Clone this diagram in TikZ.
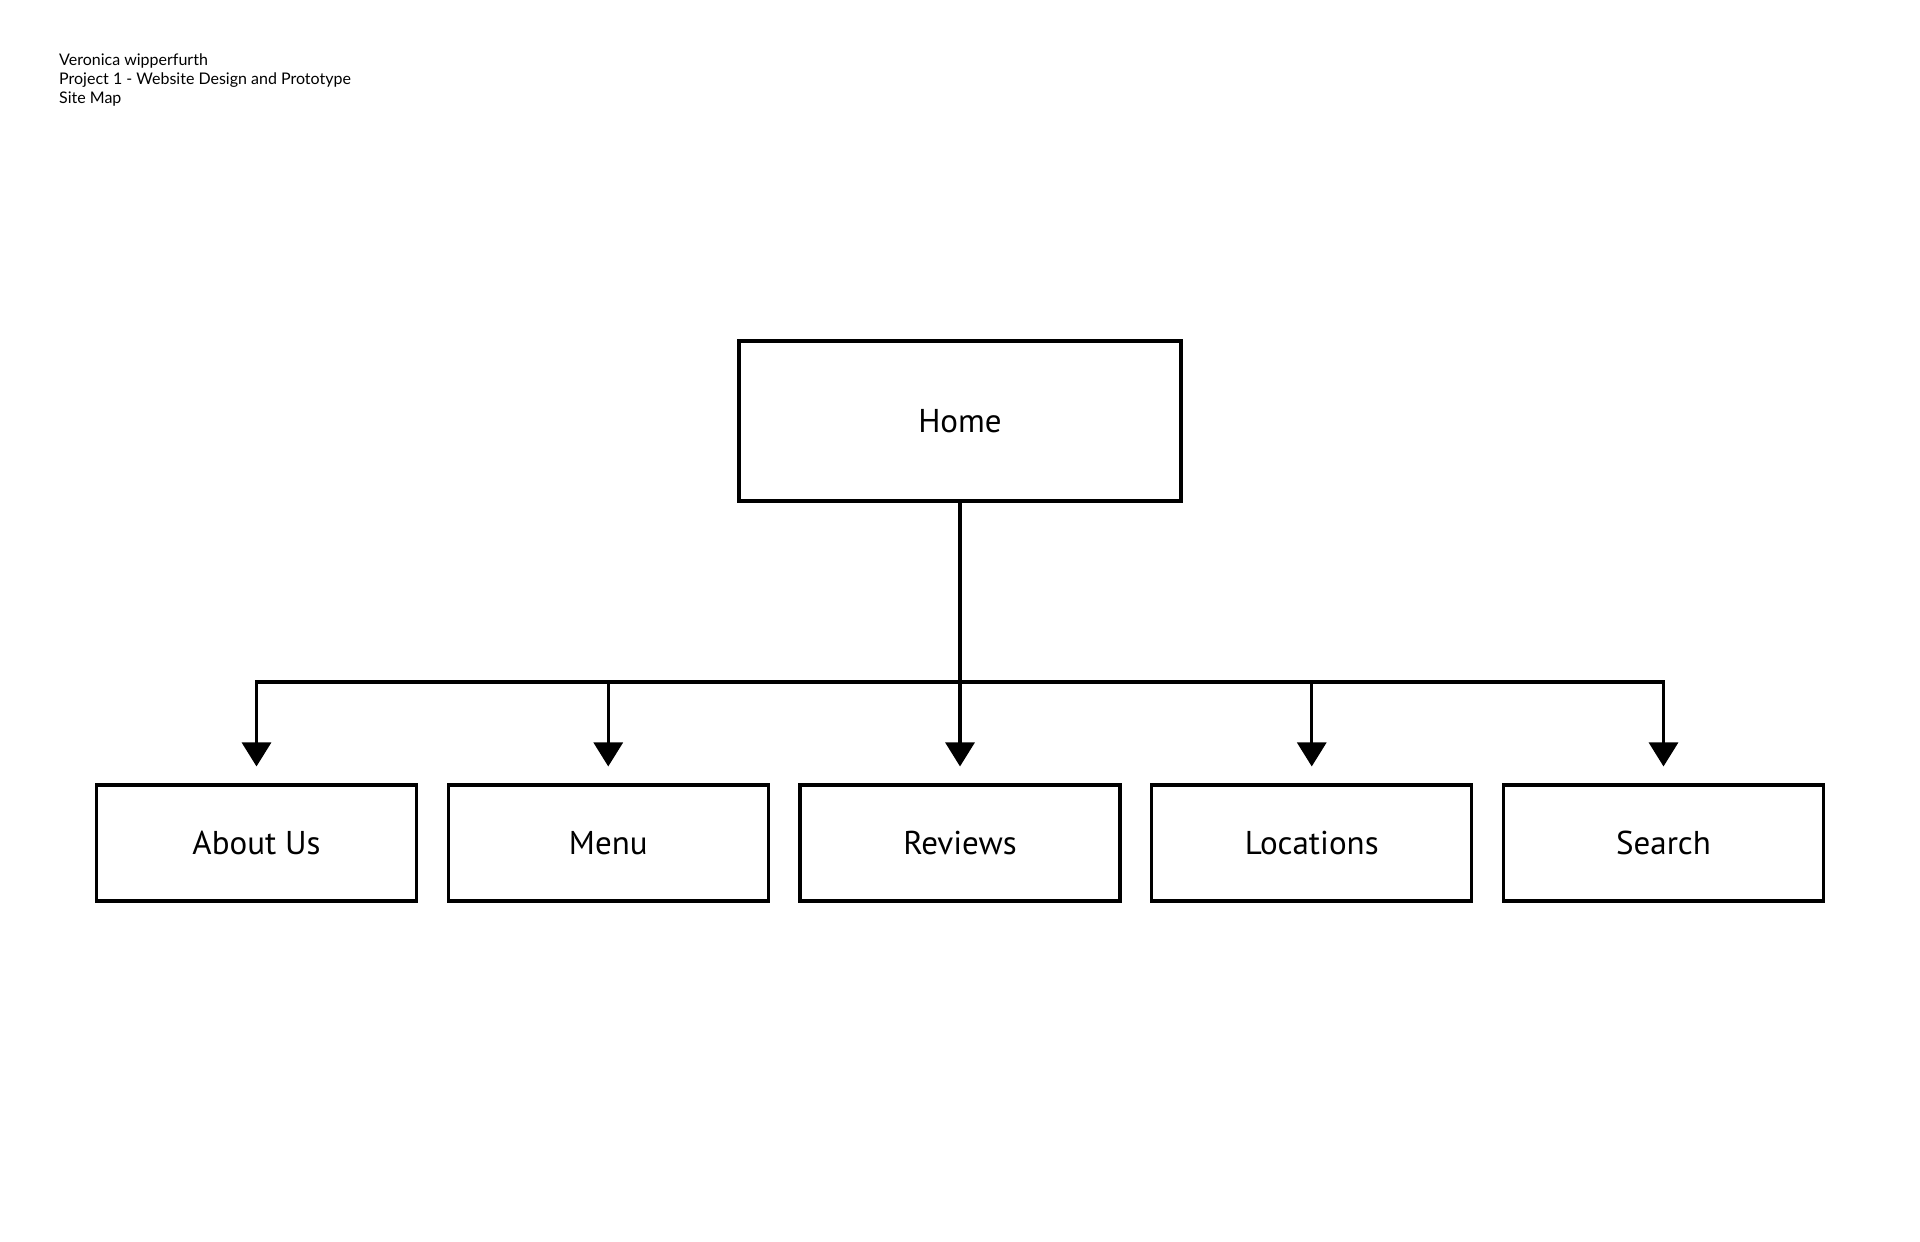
\documentclass[tikz,border=0pt]{standalone}
\usepackage{fontspec}
\setmainfont{PT Sans}
\newfontfamily\headfont{Lato}
\usetikzlibrary{arrows.meta}
\tikzset{
  box/.style={draw=black, line width=3.1pt, minimum width=320pt, minimum height=116pt, inner sep=0pt, font=\fontsize{33}{40}\selectfont},
  homebox/.style={box, minimum width=442pt, minimum height=160pt},
  conn/.style={draw=black, line width=3.1pt, line join=miter},
  arr/.style={conn, -{Triangle[length=24pt,width=29pt]}, shorten >=17pt},
  headtxt/.style={anchor=north west, inner sep=0pt, align=left, font=\headfont\fontsize{16}{19}\selectfont}
}
\begin{document}
\begin{tikzpicture}[x=1pt,y=-1pt]
\useasboundingbox (0,0) rectangle (1920,1242);
\node[headtxt] (head) at (59,54) {Veronica wipperfurth\\Project 1 - Website Design and Prototype\\Site Map};
\node[homebox] (home) at (960,421) {Home};
\node[box] (about) at (256.5,843) {About Us};
\node[box] (menu) at (608.25,843) {Menu};
\node[box] (reviews) at (960,843) {Reviews};
\node[box] (locations) at (1311.75,843) {Locations};
\node[box] (search) at (1663.5,843) {Search};
\coordinate (bus) at (960,682);
\draw[conn] (home.south) -- (bus);
\draw[arr] (bus) -- (about.north |- bus) -- (about.north);
\draw[arr] (bus) -- (search.north |- bus) -- (search.north);
\foreach \c in {menu,reviews,locations}
  \draw[arr] (\c.north |- bus) -- (\c.north);
\end{tikzpicture}
\end{document}
